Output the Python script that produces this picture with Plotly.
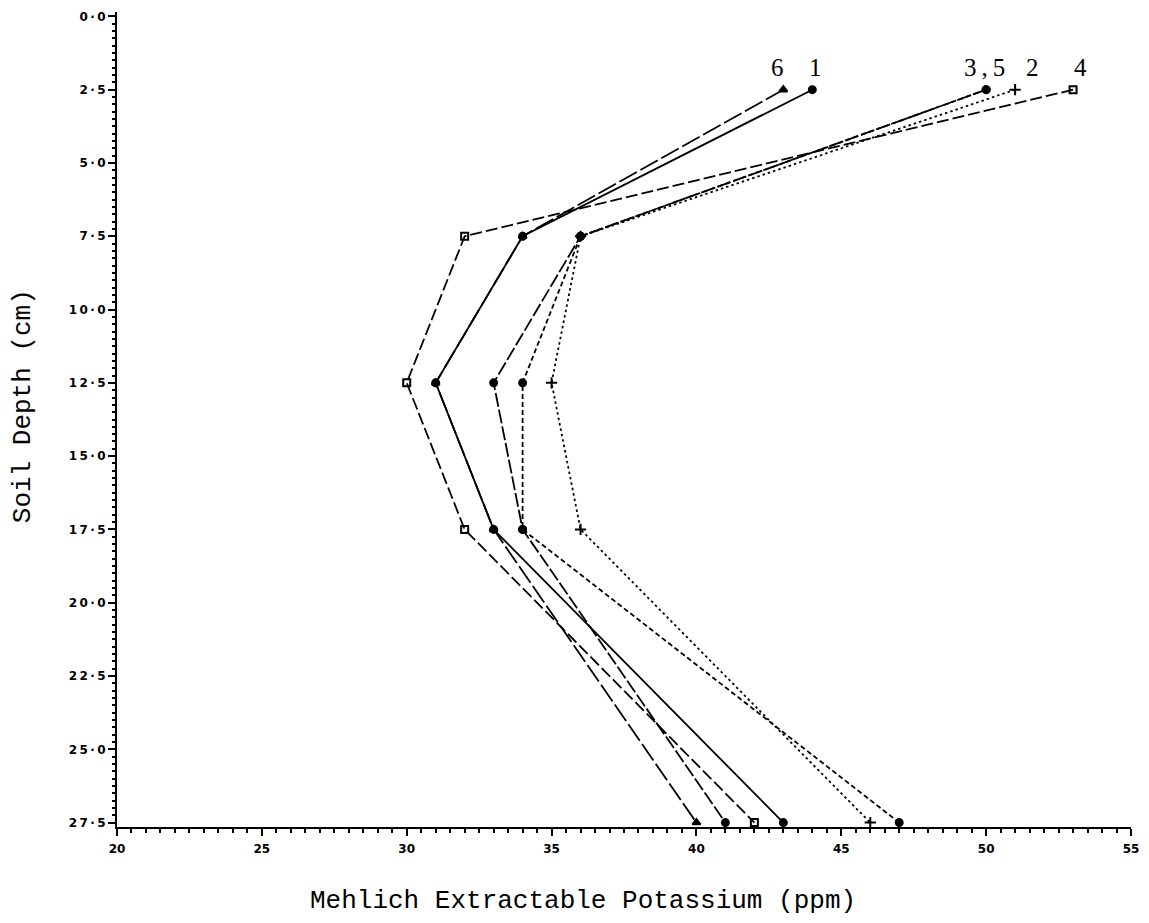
import plotly.graph_objects as go

# Soil depth (cm) sampled for every treatment
depth = [2.5, 7.5, 12.5, 17.5, 27.5]

# Mehlich extractable K (ppm) for treatments 1-6
k_trt1 = [44, 34, 31, 33, 43]
k_trt2 = [51, 36, 35, 36, 46]
k_trt3 = [50, 36, 33, 34, 41]
k_trt4 = [53, 32, 30, 32, 42]
k_trt5 = [50, 36, 34, 34, 47]
k_trt6 = [43, 34, 31, 33, 40]

x_ticks = [20, 25, 30, 35, 40, 45, 50, 55]
x_tick_text = ["20", "25", "30", "35", "40", "45", "50", "55"]
y_ticks = [0.0, 2.5, 5.0, 7.5, 10.0, 12.5, 15.0, 17.5, 20.0, 22.5, 25.0, 27.5]
y_tick_text = ["0·0", "2·5", "5·0", "7·5", "10·0", "12·5", "15·0", "17·5",
               "20·0", "22·5", "25·0", "27·5"]

THIN = "\u2009"


def spaced(s):
    # typewriter-like letter spacing
    return THIN.join(s)


series = [
    ("1", k_trt1, "solid", "circle", 7),
    ("2", k_trt2, "2.5px,3px", "cross-thin-open", 8),
    ("3", k_trt3, "14px,3px", "circle", 7),
    ("4", k_trt4, "12px,4px", "square-open", 7),
    ("5", k_trt5, "5px,3px", "circle", 7),
    ("6", k_trt6, "20px,4px", "triangle-up", 7),
]

fig = go.Figure()
for name, vals, dash, sym, size in series:
    fig.add_trace(go.Scatter(
        x=vals, y=depth, mode="lines+markers", name=name,
        line=dict(color="black", width=1.8, dash=dash),
        marker=dict(symbol=sym, size=size, color="black",
                    line=dict(color="black", width=2)),
        showlegend=False,
    ))

# Treatment labels above the shallowest points
label_font = dict(family="Liberation Serif", size=25, color="black")
fig.add_annotation(x=k_trt6[0], y=depth[0], text="6", showarrow=False,
                   yshift=22, xshift=-6, font=label_font)
fig.add_annotation(x=k_trt1[0], y=depth[0], text="1", showarrow=False,
                   yshift=22, xshift=3, font=label_font)
fig.add_annotation(x=k_trt3[0], y=depth[0], text=spaced("3,5"), showarrow=False,
                   yshift=22, xshift=-2, font=label_font)
fig.add_annotation(x=k_trt2[0], y=depth[0], text="2", showarrow=False,
                   yshift=22, xshift=17, font=label_font)
fig.add_annotation(x=k_trt4[0], y=depth[0], text="4", showarrow=False,
                   yshift=22, xshift=7, font=label_font)

# Axis titles, placed in paper coordinates
title_font = dict(family="Liberation Mono", size=26, color="black")
fig.add_annotation(xref="paper", yref="paper", x=(584 - 117) / 1016,
                   y=-(901 - 827) / 817, text="Mehlich Extractable Potassium (ppm)",
                   showarrow=False, font=title_font, xanchor="center", yanchor="middle")
fig.add_annotation(xref="paper", yref="paper", x=-(117 - 23) / 1016,
                   y=1 - (405 - 10) / 817, text="Soil Depth (cm)", textangle=-90,
                   showarrow=False, font=title_font, xanchor="center", yanchor="middle")

tick_font = dict(family="DejaVu Sans", size=12, color="black", weight="bold")

fig.update_layout(
    width=1149, height=923,
    margin=dict(l=117, r=16, t=10, b=96),
    paper_bgcolor="white", plot_bgcolor="white",
    xaxis=dict(
        range=[20, 55], tickvals=x_ticks, ticktext=x_tick_text,
        showgrid=False, zeroline=False,
        showline=True, linecolor="black", linewidth=2,
        ticks="outside", ticklen=7, tickwidth=2, tickcolor="black",
        tickfont=tick_font, ticklabelstandoff=3,
        minor=dict(dtick=0.5, ticks="outside", ticklen=4, tickwidth=1.5,
                   tickcolor="black", showgrid=False),
    ),
    yaxis=dict(
        range=[27.65, -0.15], tickvals=y_ticks,
        ticktext=[spaced(t) for t in y_tick_text],
        showgrid=False, zeroline=False,
        showline=True, linecolor="black", linewidth=2,
        ticks="outside", ticklen=7, tickwidth=2, tickcolor="black",
        tickfont=tick_font,
        minor=dict(dtick=0.25, ticks="outside", ticklen=3, tickwidth=1.5,
                   tickcolor="black", showgrid=False),
    ),
)

fig.write_html("out.html")
